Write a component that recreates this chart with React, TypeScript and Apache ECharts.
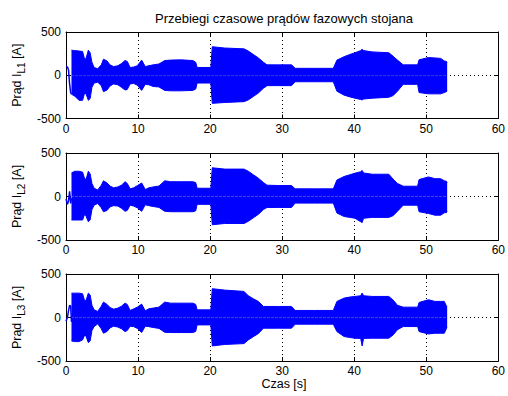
import { useEffect, useRef } from 'react';
import * as echarts from 'echarts';

const TITLE = 'Przebiegi czasowe prądów fazowych stojana';
const X_LABEL = 'Czas [s]';
const PHASES = ['L1', 'L2', 'L3'];
const X_TICKS = [0, 10, 20, 30, 40, 50, 60];
const Y_TICKS = [-500, 0, 500];

// sample times of the envelope (s)
const T = [0.76, 1.2, 1.8, 2.3, 2.6, 2.8, 3.1, 3.35, 3.6, 3.9, 4.4, 4.9, 5.2, 5.7, 6.1, 6.6, 7.2, 7.7, 8.2, 8.5, 8.9, 9.4, 9.9, 10.5, 11.0, 11.5, 12.1, 12.9, 13.7, 14.5, 16.0, 17.6, 18.0, 18.2, 20.1, 20.3, 22.0, 24.7, 25.3, 26.0, 26.7, 27.4, 27.9, 29.5, 31.3, 31.8, 34.5, 37.1, 37.6, 38.6, 39.4, 40.1, 40.9, 41.1, 41.3, 42.5, 44.8, 45.4, 46.0, 46.8, 48.8, 49.0, 50.3, 51.2, 52.0, 52.5, 52.8, 52.9];

// upper / lower envelope of phase current L1 (A)
const UP_L1 = [290, 285, 280, 275, 180, 200, 290, 260, 150, 90, 75, 120, 185, 165, 120, 100, 110, 135, 170, 160, 90, 95, 110, 175, 100, 110, 120, 130, 170, 175, 178, 170, 150, 90, 90, 330, 315, 305, 280, 240, 200, 150, 120, 120, 120, 80, 80, 80, 175, 215, 240, 260, 285, 300, 285, 270, 260, 220, 175, 120, 120, 178, 205, 200, 195, 165, 160, 150];
const LO_L1 = [-220, -240, -290, -290, -200, -220, -290, -270, -140, -90, -80, -120, -190, -170, -125, -100, -110, -140, -170, -165, -100, -95, -115, -175, -105, -110, -130, -135, -175, -180, -180, -175, -160, -90, -90, -325, -315, -305, -285, -245, -205, -150, -120, -120, -120, -75, -75, -75, -185, -230, -250, -265, -280, -285, -275, -265, -255, -235, -185, -105, -105, -200, -215, -215, -215, -200, -190, -180];

// upper / lower envelope of phase current L2 (A)
const UP_L2 = [270, 290, 290, 280, 200, 200, 290, 260, 150, 95, 75, 130, 180, 155, 120, 100, 110, 130, 170, 150, 88, 100, 125, 155, 80, 100, 110, 120, 180, 170, 170, 170, 160, 95, 95, 330, 315, 315, 290, 250, 210, 160, 130, 126, 126, 88, 88, 88, 190, 230, 250, 268, 285, 300, 270, 256, 256, 200, 150, 118, 118, 195, 225, 205, 205, 180, 175, 160];
const LO_L2 = [-270, -270, -270, -270, -200, -230, -290, -270, -150, -100, -80, -130, -175, -160, -120, -105, -110, -135, -170, -160, -100, -110, -130, -170, -95, -105, -115, -125, -170, -175, -175, -175, -165, -90, -90, -325, -310, -310, -285, -245, -205, -150, -126, -126, -126, -76, -76, -76, -190, -230, -240, -250, -290, -300, -250, -240, -240, -220, -170, -100, -100, -175, -195, -215, -215, -187, -185, -175];

// upper / lower envelope of phase current L3 (A)
const UP_L3 = [280, 280, 280, 273, 190, 200, 280, 260, 140, 88, 70, 130, 177, 150, 115, 96, 108, 130, 165, 150, 81, 100, 119, 154, 77, 100, 108, 119, 177, 165, 165, 165, 150, 88, 88, 331, 315, 300, 250, 215, 185, 127, 127, 127, 127, 81, 81, 81, 185, 223, 235, 242, 250, 281, 250, 242, 242, 200, 140, 119, 119, 173, 204, 185, 185, 185, 130, 127];
const LO_L3 = [-270, -277, -277, -258, -200, -220, -289, -270, -150, -104, -73, -130, -181, -160, -120, -100, -110, -130, -162, -150, -100, -105, -125, -173, -100, -105, -115, -125, -170, -173, -173, -173, -160, -85, -85, -327, -310, -300, -258, -220, -185, -123, -123, -123, -123, -77, -77, -77, -162, -219, -230, -238, -240, -327, -240, -238, -238, -200, -140, -104, -104, -162, -189, -181, -181, -181, -127, -120];

// start-up transient before the oscillation builds up
const TR_T = [0, 0.2, 0.35, 0.5, 0.65, 0.76];
const TR_L1 = [100, 95, 60, -100, -200, -220];
const TR_L2 = [-30, -90, -50, 60, -80, -20];
const TR_L3 = [-40, 0, 80, 140, 130, -50];

const UPS = [UP_L1, UP_L2, UP_L3];
const LOS = [LO_L1, LO_L2, LO_L3];
const TRS = [TR_L1, TR_L2, TR_L3];

const FONT = '"Liberation Sans", Arial, Helvetica, sans-serif';
const BLUE = '#0000ff';

export default function App() {
  const ref = useRef<HTMLDivElement>(null);
  useEffect(() => {
    if (!ref.current) return;
    const chart = echarts.init(ref.current, null, { renderer: 'svg' });
    const tops = [32, 153, 274];
    const heights = [86.5, 87, 87];
    const left = 66;
    const width = 436;
    const grid: any[] = [];
    const xAxis: any[] = [];
    const yAxis: any[] = [];
    const series: any[] = [];
    const graphic: any[] = [];
    const line = { show: true, onZero: false, lineStyle: { color: '#000', width: 1 } };
    const tick = { show: true, inside: true, length: 4, lineStyle: { color: '#000', width: 1 } };
    const dotted = { show: true, lineStyle: { color: '#000', width: 1, type: [1, 3] } };
    const xMin = X_TICKS[0], xMax = X_TICKS[X_TICKS.length - 1], xInt = X_TICKS[1] - X_TICKS[0];
    const yMin = Y_TICKS[0], yMax = Y_TICKS[Y_TICKS.length - 1], yInt = Y_TICKS[1] - Y_TICKS[0];
    PHASES.forEach((ph, i) => {
      grid.push({ left, width, top: tops[i], height: heights[i], show: false });
      xAxis.push({
        gridIndex: i, type: 'value', min: xMin, max: xMax, interval: xInt, position: 'bottom',
        axisLine: line, axisTick: tick,
        axisLabel: { color: '#000', fontFamily: FONT, fontSize: 12, margin: 4 },
        splitLine: dotted,
      });
      xAxis.push({
        gridIndex: i, type: 'value', min: xMin, max: xMax, interval: xInt, position: 'top',
        axisLine: line, axisTick: tick, axisLabel: { show: false }, splitLine: { show: false },
      });
      yAxis.push({
        gridIndex: i, type: 'value', min: yMin, max: yMax, interval: yInt, position: 'left',
        axisLine: line, axisTick: tick,
        axisLabel: { color: '#000', fontFamily: FONT, fontSize: 12, margin: 5 },
        splitLine: dotted,
      });
      yAxis.push({
        gridIndex: i, type: 'value', min: yMin, max: yMax, interval: yInt, position: 'right',
        axisLine: line, axisTick: tick, axisLabel: { show: false }, splitLine: { show: false },
      });
      const common = {
        type: 'line', xAxisIndex: 2 * i, yAxisIndex: 2 * i, showSymbol: false, symbol: 'none',
        silent: true, lineStyle: { color: BLUE, width: 1 },
      };
      series.push({ ...common, data: T.map((t, k) => [t, UPS[i][k]]), areaStyle: { color: BLUE, opacity: 1, origin: 'auto' } });
      series.push({ ...common, data: T.map((t, k) => [t, LOS[i][k]]), areaStyle: { color: BLUE, opacity: 1, origin: 'auto' } });
      series.push({ ...common, data: TR_T.map((t, k) => [t, TRS[i][k]]), lineStyle: { color: BLUE, width: 1.5 } });
      graphic.push({
        type: 'text', x: 17, y: tops[i] + heights[i] / 2, rotation: Math.PI / 2,
        style: {
          text: 'Prąd I{s|' + ph + '} [A]',
          fontFamily: FONT, fontSize: 12.5, fill: '#000', align: 'center', verticalAlign: 'middle',
          rich: { s: { fontFamily: FONT, fontSize: 10, fill: '#000', verticalAlign: 'bottom', padding: [8, 0, 0, 0] } },
        },
      });
    });
    graphic.push({
      type: 'text', x: left + width / 2, y: 18,
      style: { text: TITLE, fontFamily: FONT, fontSize: 13, fill: '#000', align: 'center', verticalAlign: 'middle' },
    });
    graphic.push({
      type: 'text', x: left + width / 2, y: 384,
      style: { text: X_LABEL, fontFamily: FONT, fontSize: 12.5, fill: '#000', align: 'center', verticalAlign: 'middle' },
    });
    chart.setOption({ animation: false, backgroundColor: '#fff', grid, xAxis, yAxis, series, graphic });
    return () => chart.dispose();
  }, []);
  return <div ref={ref} style={{ position: 'absolute', left: 0, top: 0, width: 508, height: 396 }} />;
}
